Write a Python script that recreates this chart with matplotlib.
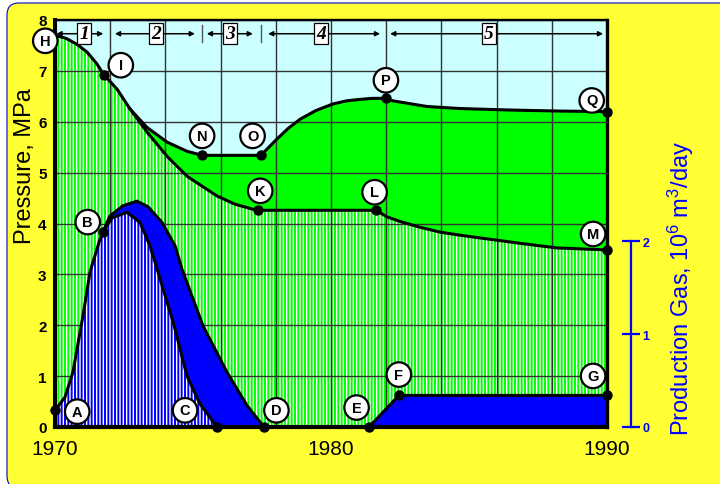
import numpy as np
import matplotlib
matplotlib.use("Agg")
import matplotlib.pyplot as plt
from matplotlib.patches import FancyBboxPatch
from matplotlib.transforms import IdentityTransform

plt.rcParams['font.family'] = ['Liberation Sans', 'DejaVu Sans']
plt.rcParams['hatch.linewidth'] = 1.4

# pressure curves, MPa
lower_yr = [1970.0, 1970.4, 1970.8, 1971.16, 1971.5, 1971.78, 1972.25, 1972.72, 1973.33, 1974.06,
            1974.78, 1975.87, 1976.52, 1977.17, 1977.36, 1981.63, 1982.03, 1982.5, 1983.2,
            1983.95, 1984.8, 1985.76, 1987.0, 1988.19, 1990.0]
lower_mpa = [7.70, 7.64, 7.52, 7.37, 7.15, 6.92, 6.64, 6.25, 5.80, 5.32,
             4.93, 4.54, 4.38, 4.28, 4.26, 4.26, 4.13, 4.04, 3.93,
             3.83, 3.76, 3.69, 3.60, 3.52, 3.48]
upper_yr = [1972.72, 1973.33, 1974.06, 1974.78, 1975.33, 1977.46, 1977.75, 1978.04, 1978.45,
            1978.88, 1979.45, 1980.07, 1980.55, 1981.05, 1981.5, 1981.99, 1982.25, 1983.48,
            1984.67, 1986.49, 1988.30, 1990.0]
upper_mpa = [6.25, 5.89, 5.60, 5.42, 5.34, 5.34, 5.50, 5.66, 5.87,
             6.05, 6.22, 6.35, 6.41, 6.44, 6.46, 6.46, 6.41, 6.30,
             6.26, 6.23, 6.21, 6.20]

# gas production, 10^6 m3/day
inner_yr = [1970.0, 1970.36, 1970.65, 1971.01, 1971.27, 1971.63, 1971.74, 1972.07, 1972.61, 1973.08,
            1973.44, 1973.70, 1973.95, 1974.28, 1974.53, 1974.78, 1975.25, 1975.87]
inner_q = [0.18, 0.32, 0.59, 1.19, 1.67, 2.02, 2.10, 2.25, 2.31, 2.20,
           1.95, 1.70, 1.45, 1.13, 0.84, 0.55, 0.25, 0.0]
outer_yr = [1971.74, 1971.99, 1972.46, 1972.97, 1973.37, 1973.88, 1974.35, 1974.6,
            1975.36, 1976.23, 1976.96, 1977.57]
outer_q = [2.10, 2.27, 2.38, 2.43, 2.37, 2.20, 1.95, 1.70, 1.09, 0.59, 0.23, 0.0]
late_yr = [1981.38, 1982.46, 1990.0]
late_q = [0.0, 0.34, 0.34]

# labelled points
p_names = ['I', 'N', 'O', 'K', 'L', 'P', 'Q', 'M']
p_yr = [1971.78, 1975.33, 1977.46, 1977.36, 1981.63, 1981.99, 1990.0, 1990.0]
p_mpa = [6.92, 5.34, 5.34, 4.26, 4.26, 6.46, 6.20, 3.48]
q_names = ['A', 'B', 'C', 'D', 'E', 'F', 'G']
q_yr = [1970.0, 1971.74, 1975.87, 1977.57, 1981.38, 1982.46, 1990.0]
q_val = [0.18, 2.10, 0.0, 0.0, 0.0, 0.34, 0.34]

# stages
stage_names = ['1', '2', '3', '4', '5']
stage_spans = [(1970.05, 1971.75), (1972.17, 1975.07), (1975.5, 1977.17), (1977.72, 1981.78), (1982.14, 1989.86)]
stage_mid = [1971.05, 1973.66, 1976.34, 1979.64, 1985.72]
stage_marks = [1975.33, 1977.46]

CYAN = '#ccffff'
GREEN = '#00ff00'
BLUE = '#0000ff'

fig = plt.figure(figsize=(7.2, 4.85), dpi=100)
fig.patch.set_facecolor('white')
bg = FancyBboxPatch((7, -4), 730, 485, boxstyle='round,pad=0,rounding_size=12',
                    transform=IdentityTransform(), fc='#ffff33', ec='#0000cc', lw=0.8, zorder=-5)
fig.add_artist(bg)

ax = fig.add_axes([55/720, 57/485, 552/720, 407/485])
ax.set_facecolor(CYAN)

# green areas
ax.fill(lower_yr + [1990, 1970], lower_mpa + [0, 0], facecolor='white', edgecolor=GREEN,
        hatch='|||||', linewidth=0, zorder=1)
ax.fill(upper_yr + lower_yr[:6:-1], upper_mpa + lower_mpa[:6:-1], color=GREEN, lw=0, zorder=1)

ax.plot(lower_yr, lower_mpa, color='black', lw=2.2, zorder=3)
ax.plot(upper_yr, upper_mpa, color='black', lw=2.2, zorder=3)
ax.plot(p_yr, p_mpa, 'o', color='black', ms=6.5, zorder=4, clip_on=False)

ax.set_xlim(1970, 1990)
ax.set_ylim(0, 8)

# right scale for gas
ax2 = ax.twinx()
ax2.set_ylim(0, 8 / 1.827)
tq = ax2.transData

ax.fill(inner_yr[:7] + outer_yr + [1970], inner_q[:7] + outer_q + [0], color=BLUE, lw=0,
        zorder=2, transform=tq)
ax.fill(inner_yr + [1970], inner_q + [0], facecolor='white', edgecolor=BLUE, hatch='|||||',
        linewidth=0, zorder=2.1, transform=tq)
ax.fill(late_yr + [1990], late_q + [0], color=BLUE, lw=0, zorder=2, transform=tq)
ax.plot(inner_yr, inner_q, color='black', lw=2.2, zorder=3, transform=tq)
ax.plot(outer_yr, outer_q, color='black', lw=2.2, zorder=3, transform=tq)
ax.plot(late_yr, late_q, color='black', lw=2.2, zorder=3, transform=tq)
ax.plot(q_yr, q_val, 'o', color='black', ms=6.5, zorder=4, transform=tq, clip_on=False)

# circled letters
circ = dict(boxstyle='circle,pad=0.36', fc='white', ec='black', lw=1.6)
p_off = [(12, 7), (0, 14), (-6, 14), (1.5, 14), (-1, 13), (0, 13), (-11, 8), (-10, 11.5)]
for name, x, y, off in zip(p_names, p_yr, p_mpa, p_off):
    ax.annotate(name, (x, y), xytext=off, textcoords='offset points', ha='center', va='center',
                fontsize=10.5, fontweight='bold', bbox=circ, zorder=6, annotation_clip=False)
ax.annotate('H', (lower_yr[0], lower_mpa[0]), xytext=(-7, -4), textcoords='offset points',
            ha='center', va='center', fontsize=10.5, fontweight='bold', bbox=circ, zorder=6,
            annotation_clip=False)
q_off = [(16, -1), (-11, 7), (-23, 12), (9, 12), (-9, 14), (0, 15), (-10, 14)]
for name, x, y, off in zip(q_names, q_yr, q_val, q_off):
    ax.annotate(name, (x, y), xycoords=tq, xytext=off, textcoords='offset points', ha='center',
                va='center', fontsize=10.5, fontweight='bold', bbox=circ, zorder=6,
                annotation_clip=False)

# stage arrows along the top
ys = 7.73
for (x0, x1), name, xm in zip(stage_spans, stage_names, stage_mid):
    ax.annotate('', xy=(x1, ys), xytext=(x0, ys),
                arrowprops=dict(arrowstyle='<|-|>', mutation_scale=7, lw=1.1, color='black',
                                shrinkA=0, shrinkB=0), zorder=4)
    ax.text(xm, ys, name, ha='center', va='center', fontsize=14, fontweight='bold',
            fontstyle='italic', family='Liberation Serif', zorder=5,
            bbox=dict(boxstyle='square,pad=0.1', fc='white', ec='black', lw=0.9))
for xb in stage_marks:
    ax.plot([xb, xb], [7.57, 7.9], color='#555555', lw=1.0, zorder=4)

# grid and axes
ax.set_xticks(np.arange(1970, 1991, 2))
ax.set_xticklabels(['1970', '', '', '', '', '1980', '', '', '', '', '1990'], fontsize=15)
ax.set_yticks(range(9))
ax.set_yticklabels([str(v) for v in range(9)], fontsize=11, fontweight='bold')
ax.tick_params(length=0)
ax.tick_params(axis='x', pad=9)
ax.tick_params(axis='y', pad=6)
ax.grid(True, color='#333333', lw=1.0)
ax.set_axisbelow('line')
for side, w in [('left', 2.9), ('bottom', 3.0), ('top', 1.7), ('right', 2.4)]:
    ax.spines[side].set_linewidth(w)
    ax.spines[side].set_zorder(5)

for side in ['left', 'top', 'bottom']:
    ax2.spines[side].set_visible(False)
ax2.spines['right'].set_position(('outward', 17))
ax2.spines['right'].set_bounds(0, 2)
ax2.spines['right'].set_color(BLUE)
ax2.spines['right'].set_linewidth(1.6)
ax2.set_yticks([0, 1, 2])
ax2.set_yticklabels(['0', '1', '2'], fontsize=9, fontweight='bold', color=BLUE)
ax2.tick_params(axis='y', direction='inout', length=13, width=1.6, color=BLUE, pad=2)

fig.text(25/720, 1 - 166/485, 'Pressure, MPa', rotation=90, fontsize=17, ha='center', va='center')
fig.text(681/720, 1 - 288/485, 'Production Gas, 10$\\mathregular{^6}$ m$\\mathregular{^3}$/day',
         rotation=90, fontsize=17, color=BLUE, ha='center', va='center')

fig.savefig('out.png', dpi=100)
